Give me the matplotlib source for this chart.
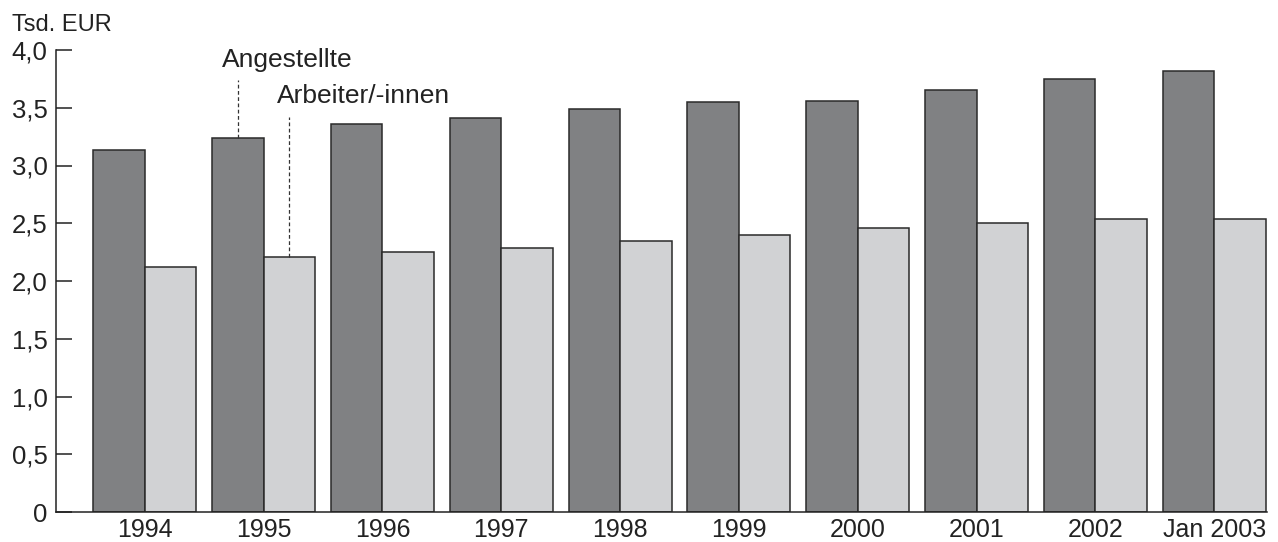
import numpy as np
import matplotlib
matplotlib.use("Agg")
from matplotlib import pyplot as plt

plt.rcParams['font.family'] = ['Liberation Sans', 'DejaVu Sans']

years = ["1994", "1995", "1996", "1997", "1998", "1999", "2000", "2001", "2002", "Jan 2003"]
angestellte = [3.13, 3.24, 3.36, 3.41, 3.49, 3.55, 3.56, 3.65, 3.75, 3.82]
arbeiter = [2.12, 2.21, 2.25, 2.29, 2.35, 2.40, 2.46, 2.505, 2.54, 2.54]
yticks = [0, 0.5, 1.0, 1.5, 2.0, 2.5, 3.0, 3.5, 4.0]
ytick_labels = ["0", "0,5", "1,0", "1,5", "2,0", "2,5", "3,0", "3,5", "4,0"]

dark = "#808183"
light = "#d1d2d4"
edge = "#2a2a2a"

fig = plt.figure(figsize=(12.78, 5.42), dpi=100)
ax = fig.add_axes([56/1278, 1-512/542, (1267-56)/1278, (512-50)/542])

x = np.arange(len(years))
w = 0.434
ax.bar(x - w/2, angestellte, w, color=dark, edgecolor=edge, linewidth=1.1)
ax.bar(x + w/2, arbeiter, w, color=light, edgecolor=edge, linewidth=1.1)

ax.set_xlim(-0.748, 9.445)
ax.set_ylim(0, 4.0)
ax.set_yticks(yticks)
ax.set_yticklabels(ytick_labels)
ax.set_xticks(x)
ax.set_xticklabels(years)

for s in ["top", "right"]:
    ax.spines[s].set_visible(False)
for s in ["left", "bottom"]:
    ax.spines[s].set_linewidth(1.1)
    ax.spines[s].set_color("#222222")

ax.tick_params(axis="y", direction="in", length=11.5, width=1.1, pad=6, labelsize=18.5, colors="#222222")
ax.tick_params(axis="x", length=0, pad=4.5, labelsize=18, colors="#222222")

# labels with dashed leader lines (on the 1995 group)
ax.plot([1 - w/2, 1 - w/2], [angestellte[1], 3.74], ls=(0, (3, 2)), color="#333333", lw=0.9)
ax.plot([1 + w/2, 1 + w/2], [arbeiter[1], 3.42], ls=(0, (3, 2)), color="#333333", lw=0.9)
ax.text(0.647, 3.855, "Angestellte", fontsize=19, color="#222222", va="baseline", ha="left")
ax.text(1.112, 3.541, "Arbeiter/-innen", fontsize=19, color="#222222", va="baseline", ha="left")

fig.text(12/1278, 1-31/542, "Tsd. EUR", fontsize=17, color="#222222", va="baseline", ha="left")

fig.savefig("out.png", dpi=100)
